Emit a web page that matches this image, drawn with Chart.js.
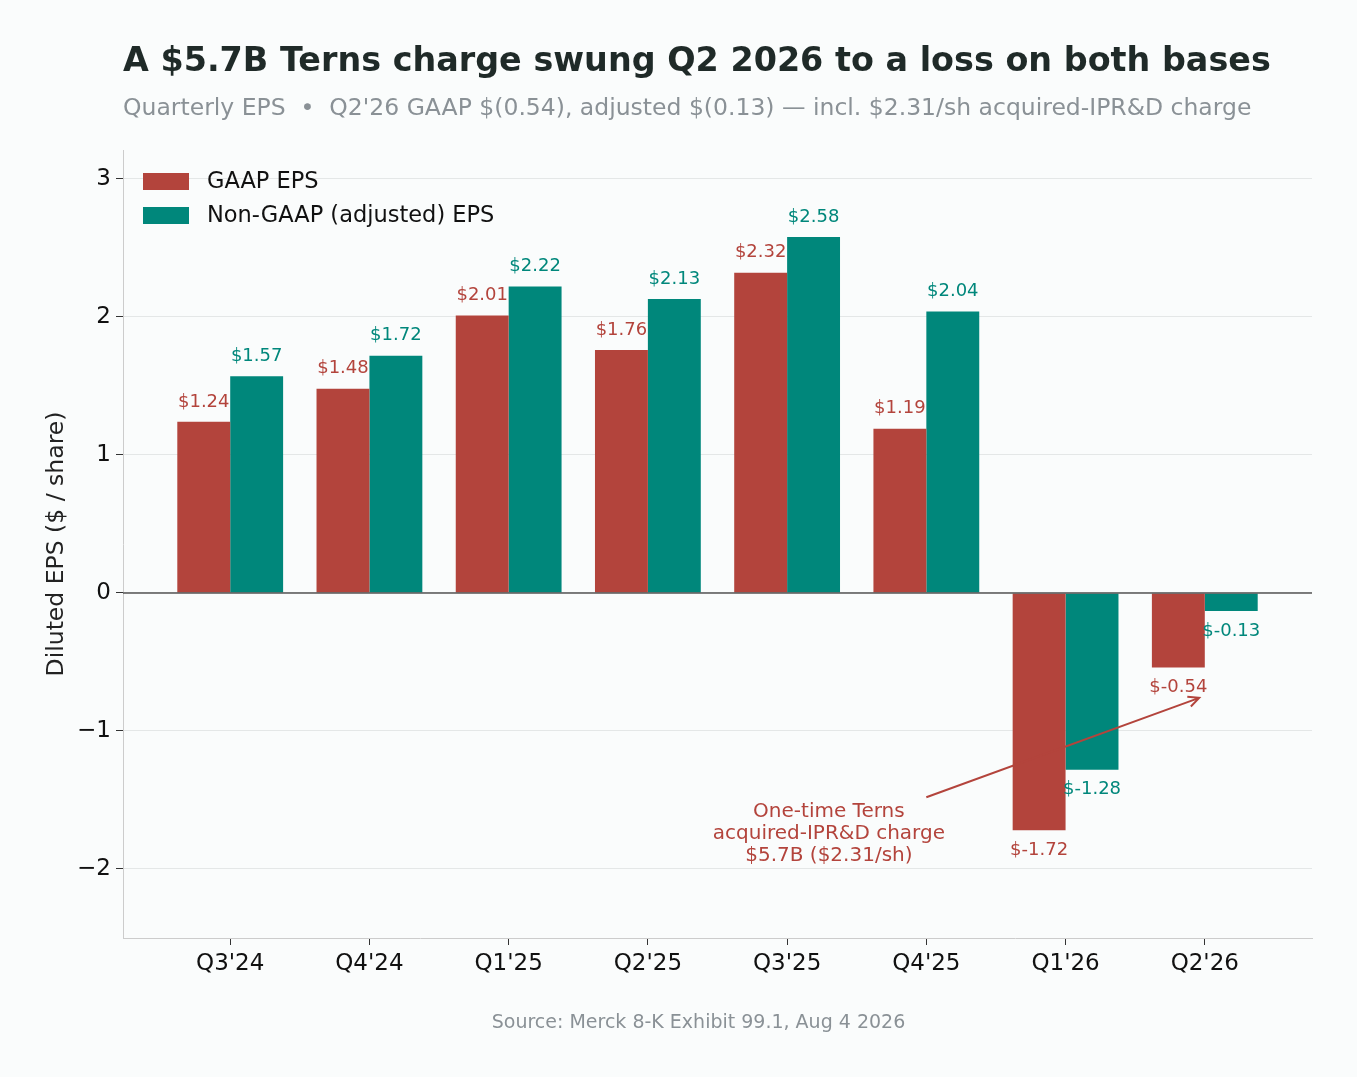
<!DOCTYPE html>
<html>
<head>
<meta charset="utf-8">
<script src="https://cdn.jsdelivr.net/npm/chart.js@4/dist/chart.umd.min.js"></script>
<style>
  body { margin: 0; background: #fafcfc; }
  #wrap { position: relative; width: 1357px; height: 1077px; font-family: "DejaVu Sans", sans-serif; }
  #chartBox { position: absolute; left: 0; top: 0; width: 1357px; height: 1077px; }
  .title { position: absolute; left: 123px; top: 40px; font-size: 33.4px; font-weight: bold; color: #1f2a28; white-space: nowrap; }
  .subtitle { position: absolute; left: 123px; top: 93px; font-size: 23.5px; color: #8a9196; white-space: nowrap; }
  .source { position: absolute; left: 0; width: 1397px; top: 1010px; text-align: center; font-size: 19px; color: #8a9196; }
</style>
</head>
<body>
<div id="wrap">
  <div id="chartBox"><canvas id="epsChart"></canvas></div>
  <div class="title">A $5.7B Terns charge swung Q2 2026 to a loss on both bases</div>
  <div class="subtitle">Quarterly EPS &nbsp;•&nbsp; Q2'26 GAAP $(0.54), adjusted $(0.13) — incl. $2.31/sh acquired-IPR&amp;D charge</div>
  <div class="source">Source: Merck 8-K Exhibit 99.1, Aug 4 2026</div>
</div>
<script>
// data
const quarters = ["Q3'24", "Q4'24", "Q1'25", "Q2'25", "Q3'25", "Q4'25", "Q1'26", "Q2'26"];
const gaapEps = [1.24, 1.48, 2.01, 1.76, 2.32, 1.19, -1.72, -0.54];
const adjEps = [1.57, 1.72, 2.22, 2.13, 2.58, 2.04, -1.28, -0.13];
const yTicks = [-2, -1, 0, 1, 2, 3];

// annotation (data units)
const noteLines = ["One-time Terns", "acquired-IPR&D charge", "$5.7B ($2.31/sh)"];
const noteX = 4.3, noteY = -1.746;
const arrowFrom = [5.0, -1.48];
const arrowTo = [6.96, -0.76];

const RED = "#b3443c";
const TEAL = "#00877b";
const FONT = "'DejaVu Sans', sans-serif";

const toPoints = (arr) => arr.map((v, i) => ({ x: i, y: v }));

// value labels above / below bars
const valueLabels = {
  id: "valueLabels",
  afterDatasetsDraw(chart) {
    const ctx = chart.ctx;
    ctx.save();
    ctx.font = "18px " + FONT;
    ctx.textAlign = "center";
    ctx.textBaseline = "middle";
    chart.data.datasets.forEach((ds, di) => {
      const meta = chart.getDatasetMeta(di);
      ctx.fillStyle = ds.backgroundColor;
      meta.data.forEach((el, i) => {
        const v = ds.data[i].y;
        const y = v >= 0 ? el.y - 20 : el.y + 20;
        ctx.fillText("$" + v.toFixed(2), el.x, y);
      });
    });
    // zero line on top of bars
    const { left, right } = chart.chartArea;
    const y0 = chart.scales.y.getPixelForValue(0);
    ctx.strokeStyle = "#555";
    ctx.lineWidth = 1.6;
    ctx.beginPath();
    ctx.moveTo(left, y0);
    ctx.lineTo(right, y0);
    ctx.stroke();
    ctx.restore();
  },
};

// annotation text + arrow
const annotation = {
  id: "annotation",
  afterDatasetsDraw(chart) {
    const { ctx, scales } = chart;
    const x = scales.x, y = scales.y;
    ctx.save();
    ctx.fillStyle = RED;
    ctx.font = "20px " + FONT;
    ctx.textAlign = "center";
    ctx.textBaseline = "middle";
    const cx = x.getPixelForValue(noteX);
    const cy = y.getPixelForValue(noteY);
    noteLines.forEach((t, i) => ctx.fillText(t, cx, cy + (i - 1) * 21.8));

    const x1 = x.getPixelForValue(arrowFrom[0]), y1 = y.getPixelForValue(arrowFrom[1]);
    const x2 = x.getPixelForValue(arrowTo[0]), y2 = y.getPixelForValue(arrowTo[1]);
    ctx.strokeStyle = RED;
    ctx.lineWidth = 2;
    ctx.beginPath();
    ctx.moveTo(x1, y1);
    ctx.lineTo(x2, y2);
    const ang = Math.atan2(y2 - y1, x2 - x1);
    const hl = 12;
    ctx.moveTo(x2 - hl * Math.cos(ang - 0.45), y2 - hl * Math.sin(ang - 0.45));
    ctx.lineTo(x2, y2);
    ctx.lineTo(x2 - hl * Math.cos(ang + 0.45), y2 - hl * Math.sin(ang + 0.45));
    ctx.stroke();
    ctx.restore();
  },
};

// legend inside the plot, top-left
const insideLegend = {
  id: "insideLegend",
  afterDraw(chart) {
    const { ctx, chartArea } = chart;
    ctx.save();
    ctx.font = "22.5px " + FONT;
    ctx.textBaseline = "middle";
    ctx.textAlign = "left";
    chart.data.datasets.forEach((ds, i) => {
      const top = chartArea.top + 23 + i * 34;
      ctx.fillStyle = ds.backgroundColor;
      ctx.fillRect(chartArea.left + 20, top, 46, 17);
      ctx.fillStyle = "#111";
      ctx.fillText(ds.label, chartArea.left + 84, top + 9);
    });
    ctx.restore();
  },
};

new Chart(document.getElementById("epsChart"), {
  type: "bar",
  data: {
    datasets: [
      { label: "GAAP EPS", data: toPoints(gaapEps), backgroundColor: RED },
      { label: "Non-GAAP (adjusted) EPS", data: toPoints(adjEps), backgroundColor: TEAL },
    ],
  },
  options: {
    responsive: true,
    maintainAspectRatio: false,
    animation: false,
    categoryPercentage: 0.76,
    barPercentage: 1.0,
    layout: { padding: { top: 150, right: 45, bottom: 79, left: 0 } },
    plugins: { legend: { display: false }, tooltip: { enabled: false } },
    scales: {
      x: {
        type: "linear",
        min: -0.77,
        max: 7.77,
        offset: false,
        afterBuildTicks: (s) => { s.ticks = quarters.map((q, i) => ({ value: i })); },
        afterFit: (s) => { s.height = 60; },
        ticks: {
          autoSkip: false,
          maxRotation: 0,
          padding: 5,
          color: "#111",
          font: { family: FONT, size: 23 },
          callback: (v) => quarters[v],
        },
        grid: { offset: false, drawOnChartArea: false, tickColor: "#333", tickLength: 7 },
        border: { color: "#cccccc" },
      },
      y: {
        min: -2.5,
        max: 3.21,
        afterBuildTicks: (s) => { s.ticks = yTicks.map((v) => ({ value: v })); },
        afterFit: (s) => { s.width = 123; },
        ticks: {
          padding: 5,
          color: "#111",
          font: { family: FONT, size: 23 },
          callback: (v) => (v < 0 ? "\u2212" + Math.abs(v) : String(v)),
        },
        grid: { color: "#e4e7e7", tickColor: "#333", tickLength: 7 },
        border: { color: "#cccccc" },
        title: {
          display: true,
          text: "Diluted EPS ($ / share)",
          color: "#222",
          font: { family: FONT, size: 23.5 },
          padding: { top: 43, bottom: 0 },
        },
      },
    },
  },
  plugins: [valueLabels, annotation, insideLegend],
});
</script>
</body>
</html>
